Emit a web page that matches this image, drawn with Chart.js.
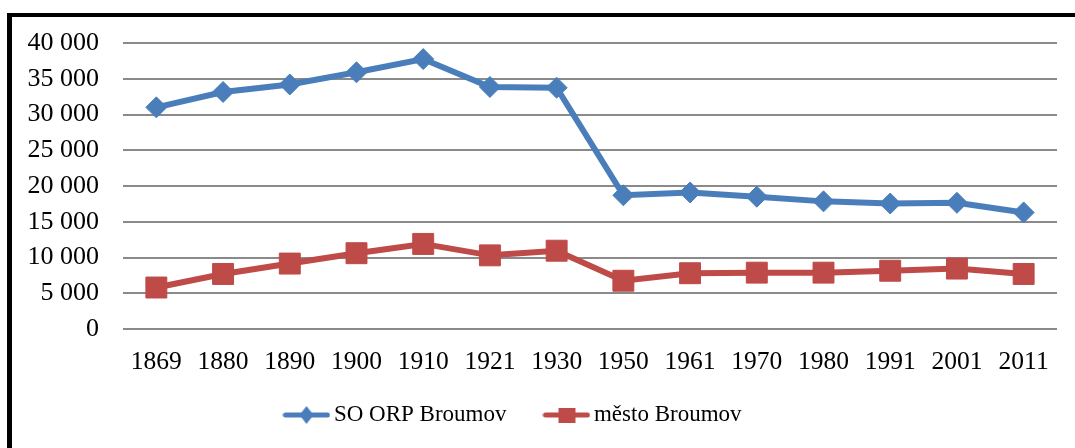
<!DOCTYPE html>
<html>
<head>
<meta charset="utf-8">
<script src="https://cdn.jsdelivr.net/npm/chart.js@4"></script>
<style>
  html, body { margin: 0; padding: 0; background: #fff; overflow: hidden; }
  #wrap { position: relative; width: 1075px; height: 448px; overflow: hidden; }
  #priceChart { position: absolute; left: -25px; top: 0; }
  #frame {
    position: absolute; left: 7px; top: 13px; width: 1200px; height: 600px;
    border-left: 5px solid #000; border-top: 4px solid #000; pointer-events: none;
  }
</style>
</head>
<body>
<div id="wrap">
  <canvas id="priceChart" width="1100" height="454"></canvas>
  <div id="frame"></div>
</div>
<script>
// census years
const years = ["1869", "1880", "1890", "1900", "1910", "1921", "1930", "1950", "1961", "1970", "1980", "1991", "2001", "2011"];

// population
const orpBroumov = [31000, 33150, 34200, 35900, 37750, 33850, 33750, 18700, 19100, 18500, 17850, 17550, 17650, 16300];
const mestoBroumov = [5800, 7700, 9150, 10600, 11900, 10300, 10950, 6750, 7800, 7880, 7880, 8150, 8450, 7700];

const seriesNames = ["SO ORP Broumov", "město Broumov"];

const yMin = 0;
const yMax = 40000;
const yStep = 5000;

const blue = '#4A7EBB';
const red = '#BE4B48';
const serif = "'Liberation Serif', 'Times New Roman', serif";

function formatThousands(v) {
  return String(v).replace(/\B(?=(\d{3})+(?!\d))/g, ' ');
}

// legend symbol like Excel: short line with the marker in the middle
function legendSymbol(color, shape) {
  const c = document.createElement('canvas');
  c.width = 48;
  c.height = 22;
  const g = c.getContext('2d');
  g.strokeStyle = color;
  g.lineWidth = 5;
  g.lineCap = 'round';
  g.beginPath();
  g.moveTo(3, 11);
  g.lineTo(45, 11);
  g.stroke();
  g.fillStyle = color;
  g.beginPath();
  if (shape === 'diamond') {
    g.moveTo(24, 2); g.lineTo(31, 11); g.lineTo(24, 20); g.lineTo(17, 11);
  } else {
    g.rect(16, 4, 17, 15);
  }
  g.closePath();
  g.fill();
  return c;
}

const symbols = [legendSymbol(blue, 'diamond'), legendSymbol(red, 'square')];

// the legend sits closer to the axis labels than its item spacing would allow
const legendLift = {
  id: 'legendLift',
  afterLayout: function(chart) {
    const lg = chart.legend;
    if (!lg) return;
    lg.top -= 17.5;
    lg.bottom -= 17.5;
  }
};

const ctx = document.getElementById('priceChart').getContext('2d');
const chart = new Chart(ctx, {
  type: 'line',
  data: {
    labels: years,
    datasets: [{
      label: seriesNames[0],
      data: orpBroumov,
      borderColor: blue,
      backgroundColor: blue,
      borderWidth: 6,
      tension: 0,
      pointStyle: 'rectRot',
      pointRadius: 10.5,
      pointBackgroundColor: '#4A7EBB',
      pointBorderColor: '#4A7EBB',
      pointBorderWidth: 1
    }, {
      label: seriesNames[1],
      data: mestoBroumov,
      borderColor: red,
      backgroundColor: red,
      borderWidth: 6,
      tension: 0,
      pointStyle: 'rect',
      pointRadius: 14.8,
      pointBackgroundColor: '#BE4B48',
      pointBorderColor: '#BE4B48',
      pointBorderWidth: 1
    }]
  },
  options: {
    responsive: false,
    animation: false,
    devicePixelRatio: 1,
    layout: { padding: { left: 0, right: 18, top: 43, bottom: 0 } },
    scales: {
      x: {
        offset: true,
        grid: { display: false, drawTicks: false },
        border: { display: false },
        ticks: {
          color: '#000',
          padding: 18,
          maxRotation: 0,
          autoSkip: false,
          font: { family: serif, size: 25.5 }
        },
        afterFit: function(scale) { scale.height = 48; }
      },
      y: {
        min: yMin,
        max: yMax,
        grid: { color: '#8a8a8a', lineWidth: 2, drawTicks: false },
        border: { display: false },
        ticks: {
          stepSize: yStep,
          autoSkip: false,
          color: '#000',
          padding: 24,
          font: { family: serif, size: 26 },
          callback: function(value) { return formatThousands(value); }
        },
        afterFit: function(scale) { scale.width = 148; }
      }
    },
    plugins: {
      legend: {
        display: true,
        position: 'bottom',
        labels: {
          usePointStyle: true,
          pointStyleWidth: 32,
          padding: 44,
          color: '#000',
          font: { family: serif, size: 23 },
          generateLabels: function(chart) {
            return chart.data.datasets.map(function(ds, i) {
              return {
                text: ds.label,
                pointStyle: symbols[i],
                fillStyle: ds.borderColor,
                strokeStyle: ds.borderColor,
                lineWidth: 0,
                hidden: false,
                datasetIndex: i
              };
            });
          }
        }
      },
      tooltip: { enabled: false }
    }
  },
  plugins: [legendLift]
});
</script>
</body>
</html>
